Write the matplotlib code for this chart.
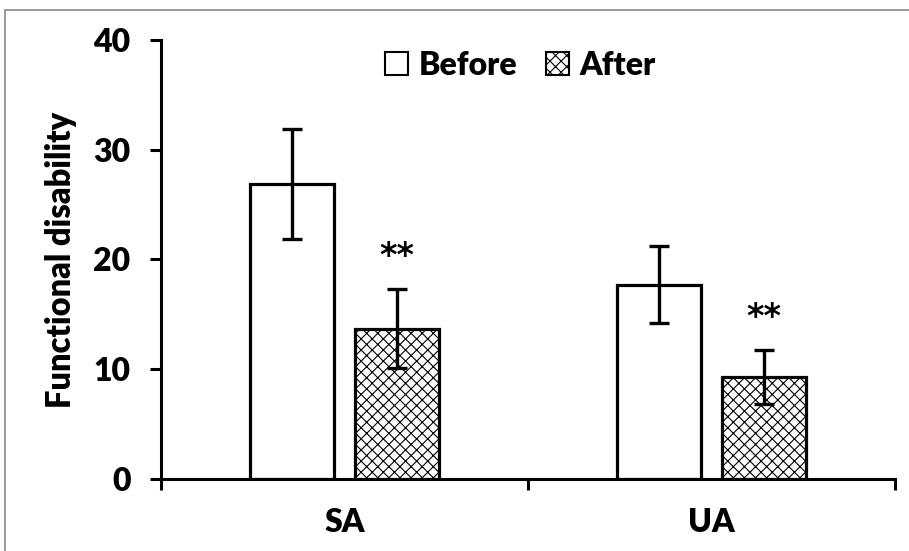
import matplotlib
matplotlib.use("Agg")
import matplotlib.pyplot as plt
import numpy as np
from matplotlib.patches import Rectangle

categories = ["SA", "UA"]
before_vals = [26.9, 17.7]
before_err = [5.0, 3.5]
after_vals = [13.7, 9.3]
after_err = [3.6, 2.45]
sig_labels = ["**", "**"]
series_names = ["Before", "After"]
yticks = [0, 10, 20, 30, 40]

plt.rcParams['font.family'] = ['Lato', 'DejaVu Sans']
plt.rcParams['hatch.linewidth'] = 0.8
FW = 'heavy'

fig = plt.figure(figsize=(9.09, 5.51), dpi=100)
ax = fig.add_axes([0.1771, 0.1307, 0.9846 - 0.1771, 0.9274 - 0.1307])

# outer frame (top and left visible)
fig.patches.append(Rectangle((0.0055, -0.05), 1.2, 0.9819 + 0.05, transform=fig.transFigure,
                             fill=False, edgecolor='#888888', linewidth=1.2))

x = np.arange(len(categories)) + 0.5
w = 0.23
off = 0.143
lw = 2.3
ax.bar(x - off, before_vals, w, color='white', edgecolor='black', linewidth=lw,
       label=series_names[0], zorder=2)
ax.bar(x + off, after_vals, w, color='white', edgecolor='black', linewidth=lw,
       hatch='xxx', label=series_names[1], zorder=2)
ax.errorbar(x - off, before_vals, yerr=before_err, fmt='none', ecolor='black',
            elinewidth=2.4, capsize=7, capthick=2.4, zorder=3)
ax.errorbar(x + off, after_vals, yerr=after_err, fmt='none', ecolor='black',
            elinewidth=2.4, capsize=7, capthick=2.4, zorder=3)
for xi, v, e, s in zip(x + off, after_vals, after_err, sig_labels):
    ax.text(xi, v + e + 3.0, s, ha='center', va='center', fontsize=24, fontweight='bold',
            family=['DejaVu Sans'])

ax.set_xlim(0, 2)
ax.set_ylim(0, 40)
ax.set_yticks(yticks)
ax.set_yticklabels([str(t) for t in yticks], fontsize=23, fontweight=FW)
ax.set_xticks([0, 1, 2])
ax.set_xticklabels([])
ax.set_xticks(x, minor=True)
ax.set_xticklabels(categories, minor=True, fontsize=23, fontweight=FW)
ax.tick_params(axis='x', which='minor', length=0, pad=21)
ax.tick_params(axis='x', which='major', direction='out', length=8, width=2.2)
ax.tick_params(axis='y', direction='out', length=8, width=2.2, pad=14)
for sp in ['top', 'right']:
    ax.spines[sp].set_visible(False)
for sp in ['left', 'bottom']:
    ax.spines[sp].set_linewidth(2.2)
ax.set_ylabel("Functional disability", fontsize=23.5, fontweight=FW, labelpad=12)

leg = ax.legend(loc='center', bbox_to_anchor=(0.49, 0.943), ncol=2, frameon=False,
                prop={'size': 23, 'weight': FW}, handlelength=0.7, handleheight=0.7,
                handletextpad=0.35, columnspacing=0.9)
for h in leg.legend_handles:
    h.set_linewidth(1.5)

fig.savefig("out.png", dpi=100)
